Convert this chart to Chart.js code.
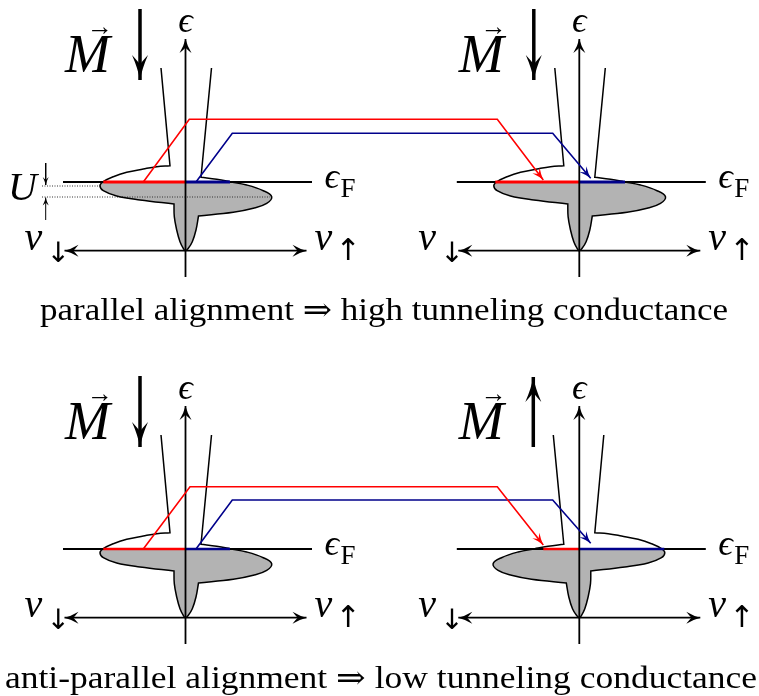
<!DOCTYPE html>
<html>
<head>
<meta charset="utf-8">
<script src="https://cdn.jsdelivr.net/npm/chart.js@4.4.1/dist/chart.umd.min.js"></script>
<style>
  html, body { margin: 0; padding: 0; background: #fff; }
  canvas { display: block; }
</style>
</head>
<body>
<canvas id="diagram" width="759" height="696"></canvas>
<script>
// Each panel is drawn in local units: u = density of states (spin down < 0 < spin up),
// e = energy above the Fermi level. panelOrigin is where the energy axis crosses eF.
const panelOrigin = [[185.5, 182], [579.3, 182], [185.5, 549], [579.3, 549]];
const panelMirrored = [false, false, false, true];
const magnetPointsUp = [false, false, false, true];

// density of states outline
const bandUpperLeft = [[-24.5, 114], [-15.5, 16.3]];
const lobeDown = [[-15.5, 16.3], [-28.8, 15.3], [-42.2, 13], [-58.8, 9.7], [-72.2, 5.3], [-82.2, 0.3],
                  [-85.5, -3.7], [-82.2, -8.7], [-68.8, -14], [-45.5, -18], [-11.5, -22]];
const bandLower = [[-11.5, -22], [-11.2, -34.7], [-8.8, -48], [-5.5, -59.7], [-2.2, -66.3], [0, -68.7],
                   [2.8, -66.3], [6.8, -59.7], [10.5, -48], [13, -34]];
const lobeUp = [[13, -34], [47.8, -30.3], [67.8, -26.3], [81.2, -21.3], [86.2, -14.7], [77.8, -8.7],
                [61.2, -3], [44.5, 0.3], [31.2, 2.7], [15.5, 4.7]];
const bandUpperRight = [[15.5, 4.7], [26, 114]];

// occupied part (below eF)
const filledDown = [[-82.2, 0], [-85.5, -3.7], [-82.2, -8.7], [-68.8, -14], [-45.5, -18], [-11.5, -22]];
const filledUp = [[13, -34], [47.8, -30.3], [67.8, -26.3], [81.2, -21.3], [86.2, -14.7], [77.8, -8.7],
                  [61.2, -3], [44.5, 0]];
const filledClose = [[44.5, 0], [-82.2, 0]];

const fermiLevel = [[-122.5, 0], [126.5, 0]];
const energyAxis = [[0, -95], [0, 143]];
const dosAxis = [[-121, -68.7], [121, -68.7]];
const magnetDown = [[-45.5, 173], [-45.5, 102]];
const magnetUp = [[-46, 102], [-46, 172]];

// states at eF taking part in tunneling, per panel
const redFermi = [[[-82.2, 0], [0, 0]], [[-84, 0], [0, 0]], [[-82.2, 0], [0, 0]], [[-36, 0], [0, 0]]];
const blueFermi = [[[0, 0], [44.5, 0]], [[0, 0], [45.7, 0]], [[0, 0], [44.5, 0]], [[0, 0], [85, 0]]];

// tunneling paths, relative to the left panel of each row
const redTunnel = [[[-42.2, 0], [3.8, 62.7], [311.8, 62.7], [357.8, 2]],
                   [[-42.2, 0], [4.5, 62.3], [311.8, 62.3], [357.8, 4]]];
const blueTunnel = [[[10.5, 0], [46.8, 48.7], [367.2, 48.7], [405.2, 3.7]],
                    [[10.5, 0], [46.8, 49], [367.2, 49], [405.2, 5.7]]];

// exchange splitting marks (top left panel)
const splitLines = [[[-143.5, -4], [-85.5, -4]], [[-143.5, -15], [84.5, -15]]];
const splitArrows = [[[-139.8, 19], [-139.8, -3]], [[-139.8, -38], [-139.8, -15.5]]];

const captions = ['parallel alignment \u21D2 high tunneling conductance',
                  'anti-parallel alignment \u21D2 low tunneling conductance'];

const RED = '#ff0000';
const BLUE = '#00008b';
const GRAY = '#b3b3b3';
const serif = "'Liberation Serif', 'DejaVu Serif', serif";
const arrows = "'DejaVu Sans', sans-serif";

function place(points, origin, mirrored) {
  return points.map(([u, e]) => ({ x: origin[0] + (mirrored ? -u : u), y: origin[1] - e }));
}

const datasets = [];
function addLine(points, opts) {
  datasets.push(Object.assign({
    data: points,
    showLine: true,
    pointRadius: 0,
    borderColor: '#000',
    borderWidth: 1.5,
    borderJoinStyle: 'miter',
    tension: 0,
    fill: false
  }, opts));
}

const labels = [];
function addLabel(text, x, y, font, align, baseline, width) {
  labels.push({ text, x, y, font, align: align || 'left', baseline: baseline || 'alphabetic', width });
}

panelOrigin.forEach((origin, p) => {
  const m = panelMirrored[p];
  const row = p < 2 ? 0 : 1;
  const thick = row === 0 ? 3 : 2.3;

  const filled = [...filledDown, ...bandLower, ...filledUp, ...filledClose];
  addLine(place(filled, origin, m), { borderColor: 'rgba(0,0,0,0)', borderWidth: 1, backgroundColor: GRAY, fill: 'shape', tension: 0.4, order: 9 });

  if (p === 0) {
    splitLines.forEach(l => addLine(place(l, origin, false), { borderWidth: 1, borderColor: '#333', borderDash: [1, 1.5], order: 8 }));
    splitArrows.forEach(l => addLine(place(l, origin, false), { borderWidth: 1, order: 2, arrow: { end: true, size: 8, width: 3 } }));
  }

  const outline = [...bandUpperLeft, ...lobeDown, ...bandLower, ...lobeUp, ...bandUpperRight];
  addLine(place(outline, origin, m), { borderWidth: 1.5, tension: 0.4, order: 7 });

  addLine(place(fermiLevel, origin, false), { borderWidth: 2, order: 6 });
  addLine(place(redFermi[p], origin, false), { borderColor: RED, borderWidth: thick, order: 5 });
  addLine(place(blueFermi[p], origin, false), { borderColor: BLUE, borderWidth: thick, order: 5 });

  addLine(place(energyAxis, origin, false), { borderWidth: 1.8, order: 4, arrow: { end: true, size: 14, width: 6 } });
  addLine(place(dosAxis, origin, false), { borderWidth: 1.8, order: 4, arrow: { start: true, end: true, size: 14, width: 6 } });

  addLine(place(magnetPointsUp[p] ? magnetUp : magnetDown, origin, false),
          { borderWidth: 3.5, order: 2, arrow: { end: true, size: 25, width: 8 } });

  const at = (u, e) => [origin[0] + u, origin[1] - e];
  addLabel('\u03F5', ...at(0, 150), 'italic 36px ' + serif, 'center');
  addLabel('\u03F5', ...at(139, -6), 'italic 36px ' + serif);
  addLabel('F', ...at(155, -15), '27px ' + serif);
  addLabel('\u03BD', ...at(-161, -68), 'italic 40px ' + serif);
  addLabel('\u2193', ...at(-139, -73), '28px ' + arrows, 'left', 'middle');
  addLabel('\u03BD', ...at(129, -68), 'italic 40px ' + serif);
  addLabel('\u2191', ...at(150, -70), '30px ' + arrows, 'left', 'middle');
  addLabel('M', ...at(-98, 110), 'italic 54px ' + serif, 'center');
  addLabel('\u2192', ...at(-85.5, 154), '26px ' + serif, 'center', 'middle');
  if (p === 0) addLabel('U', ...at(-163, -18), 'italic 40px ' + serif, 'center');
});

[0, 1].forEach(row => {
  const origin = panelOrigin[row * 2];
  addLine(place(redTunnel[row], origin, false), { borderColor: RED, borderWidth: 1.6, order: 3, arrow: { end: true, size: 12, width: 4.5 } });
  addLine(place(blueTunnel[row], origin, false), { borderColor: BLUE, borderWidth: 1.6, order: 3, arrow: { end: true, size: 12, width: 4.5 } });
});

addLabel(captions[0], 384, 320, '31px ' + serif, 'center', 'alphabetic', 688);
addLabel(captions[1], 381, 688, '31px ' + serif, 'center', 'alphabetic', 752);

function arrowHead(ctx, from, to, size, width, color) {
  const dx = to.x - from.x, dy = to.y - from.y;
  const len = Math.hypot(dx, dy) || 1;
  const ux = dx / len, uy = dy / len, nx = -uy, ny = ux;
  const pt = (a, b) => [to.x - ux * a + nx * b, to.y - uy * a + ny * b];
  ctx.save();
  ctx.fillStyle = color;
  ctx.beginPath();
  ctx.moveTo(to.x, to.y);
  ctx.quadraticCurveTo(...pt(size * 0.45, width * 0.25), ...pt(size, width));
  ctx.quadraticCurveTo(...pt(size * 0.72, width * 0.2), ...pt(size * 0.62, 0));
  ctx.quadraticCurveTo(...pt(size * 0.72, -width * 0.2), ...pt(size, -width));
  ctx.quadraticCurveTo(...pt(size * 0.45, -width * 0.25), to.x, to.y);
  ctx.fill();
  ctx.restore();
}

const arrowPlugin = {
  id: 'arrowHeads',
  afterDatasetsDraw(chart) {
    chart.data.datasets.forEach((ds, i) => {
      if (!ds.arrow) return;
      const pts = chart.getDatasetMeta(i).data;
      const n = pts.length;
      if (ds.arrow.end) arrowHead(chart.ctx, pts[n - 2], pts[n - 1], ds.arrow.size, ds.arrow.width, ds.borderColor);
      if (ds.arrow.start) arrowHead(chart.ctx, pts[1], pts[0], ds.arrow.size, ds.arrow.width, ds.borderColor);
    });
  }
};

const textPlugin = {
  id: 'texts',
  afterDraw(chart) {
    const { ctx, scales: { x, y } } = chart;
    labels.forEach(l => {
      ctx.save();
      ctx.font = l.font;
      ctx.fillStyle = '#000';
      ctx.textAlign = l.align;
      ctx.textBaseline = l.baseline;
      ctx.translate(x.getPixelForValue(l.x), y.getPixelForValue(l.y));
      if (l.width) ctx.scale(l.width / ctx.measureText(l.text).width, 1);
      ctx.fillText(l.text, 0, 0);
      ctx.restore();
    });
  }
};

new Chart(document.getElementById('diagram'), {
  type: 'scatter',
  data: { datasets },
  options: {
    responsive: false,
    animation: false,
    events: [],
    layout: { padding: 0 },
    scales: {
      x: { type: 'linear', min: 0, max: 759, display: false },
      y: { type: 'linear', min: 0, max: 696, reverse: true, display: false }
    },
    plugins: { legend: { display: false }, tooltip: { enabled: false } }
  },
  plugins: [arrowPlugin, textPlugin]
});
</script>
</body>
</html>
